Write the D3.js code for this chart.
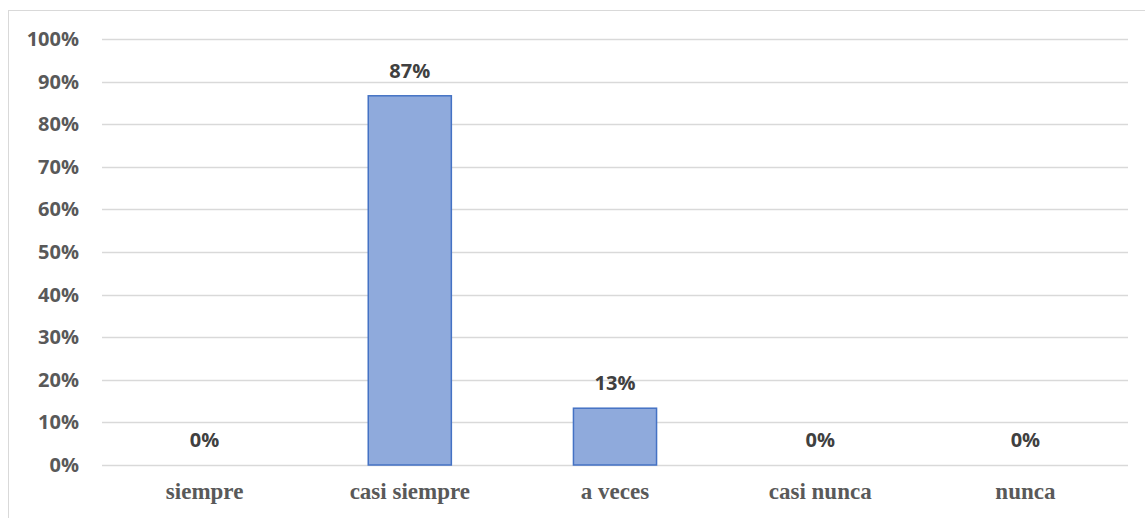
<!DOCTYPE html>
<html>
<head>
<meta charset="utf-8">
<script src="https://cdn.jsdelivr.net/npm/d3@7"></script>
<style>
  body { margin: 0; background: #fff; }
  svg { display: block; }
</style>
</head>
<body>
<div id="chart"></div>
<script>
// categories + values (fractions)
const categories = ["siempre", "casi siempre", "a veces", "casi nunca", "nunca"];
const values = [0, 0.8667, 0.1333, 0, 0];
const yTicks = [0, 0.1, 0.2, 0.3, 0.4, 0.5, 0.6, 0.7, 0.8, 0.9, 1.0];

const width = 1145, height = 518;
const margin = { top: 39, right: 17, bottom: 53, left: 102 };

const svg = d3.select("#chart").append("svg")
  .attr("width", width)
  .attr("height", height);

// outer chart border (only top + left visible in the crop)
svg.append("rect")
  .attr("x", 8.5).attr("y", 10.5)
  .attr("width", width).attr("height", height)
  .attr("fill", "none")
  .attr("stroke", "#d9d9d9");

const x = d3.scaleBand()
  .domain(categories)
  .range([margin.left, width - margin.right])
  .paddingInner(0.595)
  .paddingOuter(0.2975);

const y = d3.scaleLinear()
  .domain([0, 1])
  .range([height - margin.bottom, margin.top]);

// gridlines
svg.append("g")
  .selectAll("line")
  .data(yTicks)
  .join("line")
  .attr("x1", margin.left)
  .attr("x2", width - margin.right)
  .attr("y1", d => Math.round(y(d)) + 0.5)
  .attr("y2", d => Math.round(y(d)) + 0.5)
  .attr("stroke", "#d9d9d9")
  .attr("stroke-width", 1.5);

// y axis labels
const yAxis = d3.axisLeft(y)
  .tickValues(yTicks)
  .tickFormat(d3.format(".0%"))
  .tickSize(0)
  .tickPadding(23);

svg.append("g")
  .attr("transform", `translate(${margin.left},0)`)
  .call(yAxis)
  .call(g => g.select(".domain").remove())
  .selectAll("text")
  .attr("font-family", "'Open Sans', sans-serif")
  .attr("font-weight", "bold")
  .attr("font-size", 20)
  .attr("fill", "#595959");

// bars
svg.append("g")
  .selectAll("rect")
  .data(values)
  .join("rect")
  .attr("x", (d, i) => x(categories[i]))
  .attr("y", d => y(d))
  .attr("width", x.bandwidth())
  .attr("height", d => y(0) - y(d))
  .attr("fill", "#8faadc")
  .attr("stroke", "#4472c4")
  .attr("stroke-width", 1.5)
  .attr("display", d => d > 0 ? null : "none");

// data labels
svg.append("g")
  .selectAll("text")
  .data(values)
  .join("text")
  .attr("x", (d, i) => x(categories[i]) + x.bandwidth() / 2)
  .attr("y", d => y(d) - 18)
  .attr("text-anchor", "middle")
  .attr("font-family", "'Open Sans', sans-serif")
  .attr("font-weight", "bold")
  .attr("font-size", 20)
  .attr("fill", "#404040")
  .text(d => d3.format(".0%")(d));

// x axis labels
const xAxis = d3.axisBottom(x).tickSize(0).tickPadding(18);
svg.append("g")
  .attr("transform", `translate(0,${height - margin.bottom})`)
  .call(xAxis)
  .call(g => g.select(".domain").remove())
  .selectAll("text")
  .attr("font-family", "'Liberation Serif', 'Times New Roman', serif")
  .attr("font-weight", "bold")
  .attr("font-size", 23)
  .attr("fill", "#595959");
</script>
</body>
</html>
